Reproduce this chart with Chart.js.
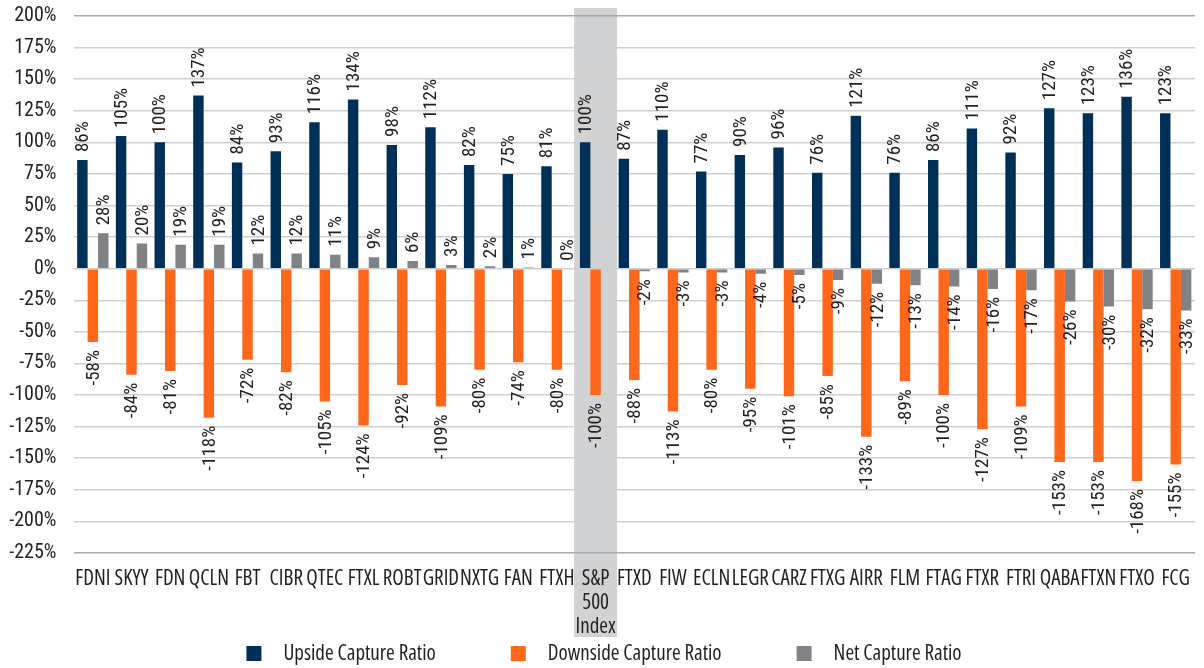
<!DOCTYPE html>
<html>
<head>
<meta charset="utf-8">
<title>Capture Ratios</title>
<script src="https://cdn.jsdelivr.net/npm/chart.js@4.4.1/dist/chart.umd.min.js"></script>
<style>
  html, body { margin: 0; padding: 0; background: #fff; }
  #wrap { width: 1204px; height: 668px; position: relative; }
</style>
</head>
<body>
<div id="wrap"><canvas id="captureChart"></canvas></div>
<script>
// Categories (funds + benchmark)
const categories = ['FDNI', 'SKYY', 'FDN', 'QCLN', 'FBT', 'CIBR', 'QTEC', 'FTXL', 'ROBT', 'GRID',
    'NXTG', 'FAN', 'FTXH', ['S&P', '500', 'Index'], 'FTXD', 'FIW', 'ECLN', 'LEGR', 'CARZ', 'FTXG',
    'AIRR', 'FLM', 'FTAG', 'FTXR', 'FTRI', 'QABA', 'FTXN', 'FTXO', 'FCG'];

const upsideCapture = [86, 105, 100, 137, 84, 93, 116, 134, 98, 112,
    82, 75, 81, 100, 87, 110, 77, 90, 96, 76,
    121, 76, 86, 111, 92, 127, 123, 136, 123];

const downsideCapture = [-58, -84, -81, -118, -72, -82, -105, -124, -92, -109,
    -80, -74, -80, -100, -88, -113, -80, -95, -101, -85,
    -133, -89, -100, -127, -109, -153, -153, -168, -155];

// benchmark has no net value shown
const netCapture = [28, 20, 19, 19, 12, 12, 11, 9, 6, 3,
    2, 1, 0, null, -2, -3, -3, -4, -5, -9,
    -12, -13, -14, -16, -17, -26, -30, -32, -33];

const yTicks = { min: -225, max: 200, step: 25 };
const highlightIndex = 13; // S&P 500 Index column gets the grey band

// condensed faces stand in for the original condensed font
const FAMILY = "'Open Sans', sans-serif";          // used with 'condensed' stretch
const NUM_FAMILY = "'Roboto Condensed', Roboto, sans-serif";
const TEXT = '#231f20';

// grey band behind the benchmark column (drawn first, behind everything)
const bandPlugin = {
    id: 'band',
    beforeDraw(chart) {
        const ctx = chart.ctx;
        ctx.save();
        ctx.fillStyle = '#fff';
        ctx.fillRect(0, 0, chart.width, chart.height);
        const x = chart.scales.x.getPixelForValue(highlightIndex);
        ctx.fillStyle = '#d1d2d4';
        ctx.fillRect(x - 21.5, 8, 43, 629);
        ctx.restore();
    }
};

// rotated value labels at the bar ends
const valueLabels = {
    id: 'valueLabels',
    afterDatasetsDraw(chart) {
        const ctx = chart.ctx;
        ctx.save();
        ctx.font = '19px ' + NUM_FAMILY;
        ctx.fillStyle = TEXT;
        ctx.textBaseline = 'middle';
        chart.data.datasets.forEach((ds, di) => {
            const meta = chart.getDatasetMeta(di);
            meta.data.forEach((bar, i) => {
                const v = ds.data[i];
                if (v === null || v === undefined) return;
                ctx.save();
                if (v >= 0) {
                    ctx.translate(bar.x, bar.y - 8);
                    ctx.textAlign = 'left';
                } else {
                    ctx.translate(bar.x, bar.y + 8);
                    ctx.textAlign = 'right';
                }
                ctx.rotate(-Math.PI / 2);
                ctx.fillText(v + '%', 0, 1);
                ctx.restore();
            });
        });
        ctx.restore();
    }
};

// legend along the bottom, squares + labels
const bottomLegend = {
    id: 'bottomLegend',
    afterDraw(chart) {
        const ctx = chart.ctx;
        ctx.save();
        ctx.font = 'condensed 21px ' + FAMILY;
        ctx.textBaseline = 'middle';
        ctx.textAlign = 'left';
        const box = 15, gap = 22, itemGap = 75;
        const items = chart.data.datasets.map(ds => ({
            label: ds.label, color: ds.backgroundColor, w: ctx.measureText(ds.label).width
        }));
        let total = 0;
        items.forEach((it, i) => { total += box + gap + it.w + (i < items.length - 1 ? itemGap : 0); });
        let x = chart.width / 2 + 2 - total / 2;
        const y = 653.5;
        items.forEach(it => {
            ctx.fillStyle = it.color;
            ctx.fillRect(x, y - box / 2, box, box);
            ctx.fillStyle = TEXT;
            ctx.fillText(it.label, x + box + gap, y + 1);
            x += box + gap + it.w + itemGap;
        });
        ctx.restore();
    }
};

const ctx = document.getElementById('captureChart');
new Chart(ctx, {
    type: 'bar',
    data: {
        labels: categories,
        datasets: [
            { label: 'Upside Capture Ratio', data: upsideCapture, backgroundColor: '#003057' },
            { label: 'Downside Capture Ratio', data: downsideCapture, backgroundColor: '#ff671b' },
            { label: 'Net Capture Ratio', data: netCapture, backgroundColor: '#808285' }
        ]
    },
    options: {
        responsive: true,
        maintainAspectRatio: false,
        animation: false,
        layout: { padding: { top: 16, right: 0, bottom: 0, left: 7.5 } },
        datasets: { bar: { categoryPercentage: 0.81, barPercentage: 1.0, borderWidth: 0 } },
        plugins: {
            legend: { display: false },
            tooltip: { enabled: false }
        },
        scales: {
            x: {
                grid: { display: false, drawTicks: false },
                border: { display: false },
                ticks: {
                    autoSkip: false, maxRotation: 0, minRotation: 0, padding: 14,
                    color: TEXT, font: { family: FAMILY, weight: 'condensed', size: 21, lineHeight: 1.15 }
                },
                afterFit(scale) { scale.height = 115; }
            },
            y: {
                min: yTicks.min,
                max: yTicks.max,
                border: { display: false },
                grid: {
                    drawTicks: false,
                    lineWidth: 1.5,
                    color: c => (c.tick && (c.tick.value === yTicks.max || c.tick.value === yTicks.min)) ? '#a7a9ac' : '#cfcfcf'
                },
                ticks: {
                    stepSize: yTicks.step,
                    padding: 17,
                    color: TEXT,
                    font: { family: NUM_FAMILY, size: 20 },
                    callback: v => v + '%'
                },
                afterFit(scale) {
                    scale.width = 66;
                    // let the top tick label sit in the layout padding
                    scale.paddingTop = 0;
                    scale.paddingBottom = 0;
                }
            }
        }
    },
    plugins: [bandPlugin, valueLabels, bottomLegend]
});
</script>
</body>
</html>
